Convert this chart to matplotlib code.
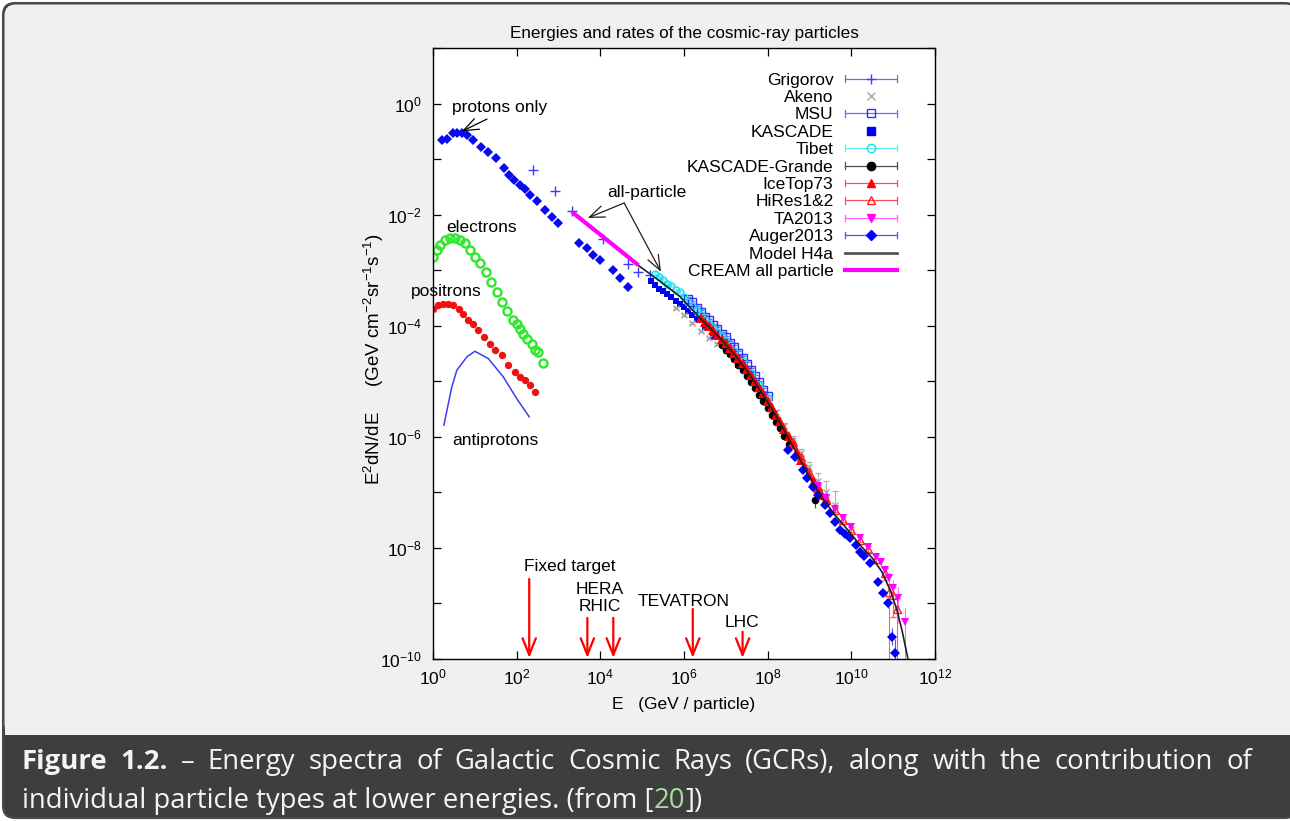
import numpy as np
import matplotlib
matplotlib.use('Agg')
import matplotlib.pyplot as plt
from matplotlib.lines import Line2D
from matplotlib.legend_handler import HandlerBase
from matplotlib.patches import FancyBboxPatch, Rectangle
from matplotlib.ticker import FixedLocator, NullFormatter, NullLocator, LogFormatterSciNotation

plt.rcParams['font.family'] = ['Liberation Sans', 'DejaVu Sans']
plt.rcParams['mathtext.fontset'] = 'custom'
plt.rcParams['mathtext.rm'] = 'Liberation Sans'
plt.rcParams['mathtext.it'] = 'Liberation Sans:italic'
plt.rcParams['mathtext.bf'] = 'Liberation Sans:bold'

# ---- data as log10(E / GeV) and log10(E^2 dN/dE) ----
protons_logE = [0.21, 0.33, 0.48, 0.57, 0.69, 0.81, 0.96, 1.15, 1.32, 1.51, 1.70, 1.82, 1.94, 2.08,
                2.20, 2.32, 2.48, 2.68, 2.84, 2.99, 3.49, 3.67, 3.83, 3.99, 4.30, 4.47, 4.66]
protons_logF = [-0.66, -0.63, -0.53, -0.53, -0.53, -0.57, -0.66, -0.78, -0.87, -0.98, -1.16, -1.29, -1.38,
                -1.47, -1.54, -1.65, -1.75, -1.92, -2.04, -2.15, -2.51, -2.60, -2.73, -2.82, -3.00, -3.14, -3.30]

electrons_logE = [0.01, 0.09, 0.17, 0.29, 0.41, 0.53, 0.65, 0.77, 0.89, 1.00, 1.12, 1.27, 1.38, 1.53,
                  1.64, 1.78, 1.91, 2.00, 2.08, 2.16, 2.25, 2.36, 2.44, 2.52, 2.62]
electrons_logF = [-2.76, -2.64, -2.55, -2.46, -2.42, -2.42, -2.46, -2.51, -2.64, -2.76, -2.87, -3.03, -3.21,
                  -3.39, -3.58, -3.73, -3.89, -3.96, -4.05, -4.14, -4.23, -4.32, -4.44, -4.47, -4.67]

positrons_logE = [0.01, 0.13, 0.25, 0.37, 0.49, 0.61, 0.72, 0.84, 0.96, 1.08, 1.22, 1.36, 1.48, 1.64,
                  1.80, 1.96, 2.08, 2.20, 2.32, 2.44]
positrons_logF = [-3.69, -3.63, -3.60, -3.61, -3.63, -3.69, -3.78, -3.89, -3.96, -4.07, -4.20, -4.32, -4.44,
                  -4.53, -4.71, -4.83, -4.92, -4.97, -5.07, -5.19]

antiprotons_logE = [0.26, 0.45, 0.57, 0.81, 1.00, 1.32, 1.68, 2.00, 2.30]
antiprotons_logF = [-5.79, -5.10, -4.80, -4.56, -4.46, -4.59, -4.92, -5.31, -5.64]

grigorov_logE = [2.38, 2.92, 3.32, 4.06, 4.67, 4.91, 5.19]
grigorov_logF = [-1.20, -1.57, -1.93, -2.43, -2.88, -3.03, -3.09]

cream_logE = [3.32, 4.91]
cream_logF = [-1.95, -2.91]

h4a_logE = [4.90, 5.43, 5.91, 6.38, 6.86, 7.22, 7.58, 7.94, 8.30, 8.65, 9.01, 9.30, 9.61, 9.92, 10.21,
            10.50, 10.73, 10.93, 11.09, 11.21, 11.36]
h4a_logF = [-2.91, -3.20, -3.48, -3.86, -4.22, -4.53, -4.89, -5.30, -5.75, -6.24, -6.74, -7.10, -7.41,
            -7.68, -7.95, -8.18, -8.43, -8.76, -9.12, -9.48, -10.02]

tibet_logE = [5.3, 5.4, 5.5, 5.6, 5.7, 5.8, 5.9, 6.0, 6.1, 6.2, 6.3, 6.4, 6.5, 6.6, 6.7, 6.8, 6.9, 7.0,
              7.2, 7.4, 7.6, 7.8, 8.0]
tibet_logF = [-3.06, -3.12, -3.17, -3.24, -3.29, -3.36, -3.40, -3.48, -3.57, -3.64, -3.73, -3.81, -3.89,
              -3.96, -4.04, -4.11, -4.19, -4.27, -4.45, -4.64, -4.85, -5.07, -5.31]

kascade_logE = [5.2, 5.3, 5.4, 5.5, 5.6, 5.7, 5.8, 5.9, 6.0, 6.1, 6.2, 6.3, 6.5, 6.7, 6.9, 7.1, 7.3]
kascade_logF = [-3.20, -3.27, -3.33, -3.38, -3.43, -3.49, -3.55, -3.60, -3.66, -3.73, -3.80, -3.88, -4.03,
                -4.18, -4.34, -4.51, -4.70]

msu_logE = [6.1, 6.2, 6.3, 6.4, 6.5, 6.6, 6.7, 6.8, 6.9, 7.0, 7.1, 7.2, 7.3, 7.4, 7.5, 7.6, 7.7, 7.8, 7.9, 8.0]
msu_logF = [-3.51, -3.58, -3.68, -3.75, -3.84, -3.90, -3.99, -4.05, -4.14, -4.21, -4.31, -4.38, -4.49,
            -4.58, -4.69, -4.79, -4.91, -5.02, -5.15, -5.27]

akeno_logE = [5.8, 6.0, 6.2, 6.4, 6.6, 6.8, 7.0, 7.2, 7.4, 7.6, 7.8, 8.0, 8.2, 8.4, 8.6, 8.8, 9.0, 9.2, 9.4, 9.6]
akeno_logF = [-3.68, -3.80, -3.95, -4.10, -4.22, -4.33, -4.45, -4.58, -4.74, -4.93, -5.12, -5.33, -5.56,
              -5.80, -6.05, -6.30, -6.55, -6.80, -7.00, -7.22]
akeno_err = [0.02, 0.02, 0.02, 0.02, 0.02, 0.02, 0.02, 0.03, 0.03, 0.03, 0.04, 0.04, 0.05, 0.05, 0.06,
             0.08, 0.10, 0.15, 0.20, 0.25]

grande_logE = [6.9, 7.0, 7.1, 7.2, 7.3, 7.4, 7.5, 7.6, 7.7, 7.8, 7.9, 8.0, 8.1, 8.2, 8.3, 8.4, 8.5, 9.13]
grande_logF = [-4.34, -4.43, -4.51, -4.60, -4.70, -4.80, -4.90, -5.01, -5.12, -5.24, -5.36, -5.48, -5.60,
               -5.73, -5.85, -5.99, -6.13, -7.14]
grande_err = [0.02, 0.02, 0.02, 0.02, 0.02, 0.02, 0.02, 0.02, 0.03, 0.03, 0.03, 0.03, 0.04, 0.04, 0.05,
              0.05, 0.06, 0.15]

icetop_logE = [6.4, 6.5, 6.6, 6.7, 6.8, 6.9, 7.0, 7.1, 7.2, 7.3, 7.4, 7.5, 7.6, 7.7, 7.8, 7.9, 8.0, 8.1,
               8.2, 8.3, 8.4, 8.5, 8.6, 8.7, 8.8, 8.9, 9.0, 9.1, 9.2, 9.3, 9.4]
icetop_logF = [-3.86, -3.93, -4.01, -4.08, -4.16, -4.23, -4.31, -4.40, -4.49, -4.58, -4.68, -4.78, -4.88,
               -4.99, -5.11, -5.22, -5.35, -5.47, -5.60, -5.72, -5.86, -5.99, -6.13, -6.27, -6.41, -6.55,
               -6.68, -6.80, -6.92, -7.04, -7.13]
icetop_err = [0.02] * 12 + [0.03] * 8 + [0.04, 0.04, 0.05, 0.05, 0.06, 0.06, 0.07, 0.08, 0.09, 0.10, 0.12]

hires_logE = [8.6, 8.8, 9.0, 9.2, 9.4, 9.6, 9.8, 10.0, 10.2, 10.4, 10.6, 10.8, 10.9, 11.0, 11.1]
hires_logF = [-6.10, -6.37, -6.64, -6.90, -7.12, -7.32, -7.49, -7.67, -7.85, -8.02, -8.20, -8.45, -8.80,
              -8.85, -9.10]
hires_lo = [0.03, 0.03, 0.03, 0.03, 0.03, 0.04, 0.04, 0.05, 0.05, 0.06, 0.08, 0.12, 1.40, 0.40, 1.00]
hires_hi = [0.03, 0.03, 0.03, 0.03, 0.03, 0.04, 0.04, 0.05, 0.05, 0.06, 0.07, 0.09, 0.15, 0.15, 0.20]

ta_logE = [9.2, 9.4, 9.6, 9.8, 10.0, 10.2, 10.4, 10.6, 10.7, 10.8, 10.9, 11.0, 11.12, 11.28]
ta_logF = [-6.88, -7.10, -7.30, -7.46, -7.63, -7.82, -7.98, -8.16, -8.26, -8.40, -8.55, -8.72, -8.90, -9.33]
ta_lo = [0.03, 0.03, 0.03, 0.04, 0.04, 0.05, 0.06, 0.08, 0.10, 0.12, 0.20, 0.30, 0.45, 1.00]
ta_hi = [0.03, 0.03, 0.03, 0.04, 0.04, 0.05, 0.06, 0.07, 0.08, 0.10, 0.12, 0.15, 0.20, 0.25]

auger_logE = [8.49, 8.65, 8.85, 8.94, 9.08, 9.20, 9.37, 9.50, 9.61, 9.73, 9.85, 9.97, 10.10, 10.21, 10.30,
              10.45, 10.64, 10.76, 10.88, 10.97, 11.05]
auger_logF = [-6.24, -6.36, -6.60, -6.74, -6.90, -7.05, -7.23, -7.38, -7.53, -7.68, -7.75, -7.82, -7.95,
              -8.07, -8.15, -8.27, -8.61, -8.81, -8.99, -9.60, -9.89]
auger_err = [0.02, 0.02, 0.02, 0.02, 0.02, 0.02, 0.02, 0.02, 0.02, 0.03, 0.03, 0.03, 0.03, 0.04, 0.04,
             0.05, 0.06, 0.07, 0.09, 0.15, 0.25]

acc_names = ['Fixed target', 'HERA', 'RHIC', 'TEVATRON', 'LHC']
acc_logE = [2.30, 3.69, 4.31, 6.21, 7.40]


def dex(a):
    return 10.0 ** np.asarray(a, dtype=float)


class HandlerBar(HandlerBase):
    # gnuplot style key sample: horizontal bar with end caps and the point in the middle
    def create_artists(self, legend, orig_handle, xdescent, ydescent, width, height, fontsize, trans):
        y = height / 2 - ydescent
        x0, x1 = -xdescent, width - xdescent
        out = []
        if orig_handle.get_linestyle() not in ('None', ''):
            c, lw = orig_handle.get_color(), orig_handle.get_linewidth()
            out.append(Line2D([x0, x1], [y, y], color=c, lw=lw))
            if orig_handle.get_gid() == 'bar':
                for xc in (x0, x1):
                    out.append(Line2D([xc, xc], [y - 2.3, y + 2.3], color=c, lw=lw))
        if orig_handle.get_marker() not in ('None', None, ''):
            out.append(Line2D([(x0 + x1) / 2], [y], ls='None', marker=orig_handle.get_marker(),
                              ms=orig_handle.get_markersize(), mfc=orig_handle.get_markerfacecolor(),
                              mec=orig_handle.get_markeredgecolor(), mew=orig_handle.get_markeredgewidth()))
        for a in out:
            a.set_transform(trans)
        return out


fig = plt.figure(figsize=(12.9, 8.21), dpi=100)
fig.patch.set_facecolor('white')

# box and caption band
fig.add_artist(FancyBboxPatch((0.03, 0.03), 12.94, 8.15, boxstyle='round,pad=0,rounding_size=0.12',
                              transform=fig.dpi_scale_trans, fc='#3e3e3e', ec='#4a4a4a', lw=1.5, zorder=-10))
fig.add_artist(FancyBboxPatch((0.045, 0.86), 12.92, 7.305, boxstyle='round,pad=0,rounding_size=0.11',
                              transform=fig.dpi_scale_trans, fc='#f0f0f0', ec='none', zorder=-9))
fig.add_artist(Rectangle((0.045, 0.86), 12.92, 0.3, transform=fig.dpi_scale_trans,
                         fc='#f0f0f0', ec='none', zorder=-9))

ax = fig.add_axes([433 / 1290, 1 - 659 / 821, 502 / 1290, 611 / 821])
ax.set_xscale('log')
ax.set_yscale('log')

# low energy species
ax.plot(dex(protons_logE), dex(protons_logF), ls='none', marker='D', ms=4.6, color='#0a0af0', mew=0)
ax.plot(dex(electrons_logE), dex(electrons_logF), ls='none', marker='o', ms=5.8, mfc='none',
        mec='#2ee82e', mew=1.7)
ax.plot(dex(positrons_logE), dex(positrons_logF), ls='none', marker='o', ms=5.3, color='#f01010', mew=0)
ax.plot(dex(antiprotons_logE), dex(antiprotons_logF), color='#3c3cf0', lw=1.1)


def errbar(logE, logF, lo, hi, **kw):
    F = dex(logF)
    yerr = [F - F * dex(-np.asarray(lo)), F * dex(hi) - F]
    ax.errorbar(dex(logE), F, yerr=yerr, capsize=2, elinewidth=0.8, capthick=0.8, ls='none', **kw)


# all-particle spectrum
ax.plot(dex(grigorov_logE), dex(grigorov_logF), ls='none', marker='+', ms=7, mew=1.0, color='#3c3cff')
errbar(akeno_logE, akeno_logF, akeno_err, akeno_err, marker='x', ms=5, mew=0.9, color='#a0a0a0',
       ecolor='#b0b0b0')
errbar(msu_logE, msu_logF, [0.03] * len(msu_logE), [0.03] * len(msu_logE), marker='s', ms=5.5, mfc='none',
       mec='#3030ff', mew=1.0, ecolor='#7070ff')
ax.plot(dex(kascade_logE), dex(kascade_logF), ls='none', marker='s', ms=4.8, color='#0000f0', mew=0)
errbar(tibet_logE, tibet_logF, [0.02] * len(tibet_logE), [0.02] * len(tibet_logE), marker='o', ms=5,
       mfc='none', mec='#10e0f0', mew=1.0, ecolor='#70f0f8')
errbar(grande_logE, grande_logF, grande_err, grande_err, marker='o', ms=5.5, color='black', mew=0,
       ecolor='#505050')
errbar(icetop_logE, icetop_logF, icetop_err, icetop_err, marker='^', ms=7, color='#ff0000', mew=0,
       ecolor='#ff4040')
errbar(hires_logE, hires_logF, hires_lo, hires_hi, marker='^', ms=6, mfc='none', mec='#ff2020', mew=1.0,
       ecolor='#ff6060')
errbar(ta_logE, ta_logF, ta_lo, ta_hi, marker='v', ms=6, color='#ff00ff', mew=0, ecolor='#ff70ff')
errbar(auger_logE, auger_logF, auger_err, auger_err, marker='D', ms=5, color='#0000ff', mew=0,
       ecolor='#5050ff')
ax.plot(dex(h4a_logE), dex(h4a_logF), color='#202020', lw=1.2, zorder=5)
ax.plot(dex(cream_logE), dex(cream_logF), color='#ff00ff', lw=3, solid_capstyle='butt', zorder=6)

ax.set_xlim(1, 1e12)
ax.set_ylim(1e-10, 10)

# axes cosmetics, gnuplot-like
ax.xaxis.set_major_locator(FixedLocator(dex(np.arange(0, 13, 2))))
ax.xaxis.set_minor_locator(NullLocator())
ax.yaxis.set_major_locator(FixedLocator(dex(np.arange(-10, 1, 2))))
ax.yaxis.set_minor_locator(FixedLocator(dex(np.arange(-9, 2, 2))))
ax.yaxis.set_minor_formatter(NullFormatter())
ax.xaxis.set_major_formatter(LogFormatterSciNotation())
ax.yaxis.set_major_formatter(LogFormatterSciNotation())
ax.tick_params(which='both', direction='in', top=True, right=True, length=6, width=0.9,
               labelsize=12.5, colors='black')
ax.tick_params(axis='x', pad=6)
ax.tick_params(axis='y', pad=8)
for s in ax.spines.values():
    s.set_linewidth(1.0)

ax.set_title('Energies and rates of the cosmic-ray particles', fontsize=12.3, pad=7)
ax.set_xlabel('E   (GeV / particle)', fontsize=12.5)
ax.xaxis.set_label_coords(0.5, -0.062)
ax.set_ylabel('E$\\mathregular{^2}$dN/dE     (GeV cm$\\mathregular{^{-2}}$sr$\\mathregular{^{-1}}$'
              's$\\mathregular{^{-1}}$)', fontsize=13.5)
ax.yaxis.set_label_coords(-0.094, 0.49)

# labels and arrows in the plot
tfs = 12.5
ax.text(dex(1.60), dex(-0.08), 'protons only', fontsize=tfs, ha='center', va='center')
ax.text(dex(1.15), dex(-2.24), 'electrons', fontsize=tfs, ha='center', va='center')
ax.text(dex(0.31), dex(-3.39), 'positrons', fontsize=tfs, ha='center', va='center')
ax.text(dex(1.48), dex(-6.06), 'antiprotons', fontsize=tfs, ha='center', va='center')
ax.text(dex(5.12), dex(-1.61), 'all-particle', fontsize=tfs, ha='center', va='center')


def arrow(tail, head, color, lw, hl=0.9, hw=0.35):
    ax.annotate('', xy=(dex(head[0]), dex(head[1])), xytext=(dex(tail[0]), dex(tail[1])),
                arrowprops=dict(arrowstyle='->,head_length=%g,head_width=%g' % (hl, hw), color=color, lw=lw,
                                shrinkA=0, shrinkB=0, mutation_scale=12))


arrow((1.29, -0.28), (0.69, -0.50), 'black', 0.9)
arrow((4.57, -1.79), (3.70, -2.06), '#202020', 0.9)
arrow((4.57, -1.79), (5.45, -3.03), '#202020', 0.9)

acc_text_pos = [(3.275, -8.34), (3.99, -8.74), (3.99, -9.06), (6.0, -8.96), (7.39, -9.35)]
acc_arrow_top = [-8.56, -9.26, -9.26, -9.10, -9.51]
for name, (tx, ty) in zip(acc_names, acc_text_pos):
    ax.text(dex(tx), dex(ty), name, fontsize=tfs, ha='center', va='center')
for e, top in zip(acc_logE, acc_arrow_top):
    arrow((e, top), (e, -9.98), '#ff0000', 1.6, hl=1.0, hw=0.4)

# legend
handles = [
    Line2D([], [], color='#6a6aff', lw=0.9, marker='+', ms=7, mec='#3c3cff', gid='bar'),
    Line2D([], [], ls='None', marker='x', ms=5.5, mec='#a8a8a8', mew=1.0),
    Line2D([], [], color='#6a6aff', lw=0.9, marker='s', ms=6, mfc='none', mec='#3030ff', gid='bar'),
    Line2D([], [], ls='None', marker='s', ms=6, mfc='#0000f0', mec='#0000f0'),
    Line2D([], [], color='#60f0f8', lw=0.9, marker='o', ms=6, mfc='none', mec='#10e0f0', gid='bar'),
    Line2D([], [], color='#505050', lw=0.9, marker='o', ms=6, mfc='black', mec='black', gid='bar'),
    Line2D([], [], color='#ff5050', lw=0.9, marker='^', ms=6, mfc='#ff0000', mec='#ff0000', gid='bar'),
    Line2D([], [], color='#ff5050', lw=0.9, marker='^', ms=6, mfc='none', mec='#ff2020', gid='bar'),
    Line2D([], [], color='#ff60ff', lw=0.9, marker='v', ms=6, mfc='#ff00ff', mec='#ff00ff', gid='bar'),
    Line2D([], [], color='#5050ff', lw=0.9, marker='D', ms=5.5, mfc='#0000ff', mec='#0000ff', gid='bar'),
    Line2D([], [], color='#555555', lw=2.0),
    Line2D([], [], color='#ff00ff', lw=3.0),
]
labels = ['Grigorov', 'Akeno', 'MSU', 'KASCADE', 'Tibet', 'KASCADE-Grande', 'IceTop73', 'HiRes1&2',
          'TA2013', 'Auger2013', 'Model H4a', 'CREAM all particle']
ax.legend(handles, labels, handler_map={Line2D: HandlerBar()}, loc='upper right',
          bbox_to_anchor=(0.924, 0.960), borderaxespad=0, borderpad=0, frameon=False, fontsize=12.5,
          markerfirst=False, handlelength=3.0, handletextpad=0.65, labelspacing=0.13)

# caption, justified on the first line
cap_font = ['Open Sans', 'DejaVu Sans']
W = 1290.0
renderer = fig.canvas.get_renderer()
probe = fig.text(0, 0, 'individual particle types at lower energies. (from [20])', fontsize=17,
                 family=cap_font)
cap_fs = 17 * 681.0 / probe.get_window_extent(renderer).width
probe.remove()

line1 = [('Figure', 'bold'), ('1.2.', 'bold'), ('–', 'normal'), ('Energy', 'normal'), ('spectra', 'normal'),
         ('of', 'normal'), ('Galactic', 'normal'), ('Cosmic', 'normal'), ('Rays', 'normal'),
         ('(GCRs),', 'normal'), ('along', 'normal'), ('with', 'normal'), ('the', 'normal'),
         ('contribution', 'normal'), ('of', 'normal')]
texts = [fig.text(0, 1 - 769 / 821, w, fontsize=cap_fs, fontweight=wt, color='#f4f4f4', family=cap_font,
                  ha='left', va='baseline') for w, wt in line1]
widths = [t.get_window_extent(renderer).width for t in texts]
gap = (1252 - 22 - sum(widths)) / (len(texts) - 1)
x = 22.0
for t, w in zip(texts, widths):
    t.set_x(x / W)
    x += w + gap

line2 = [('individual particle types at lower energies. (from [', '#f4f4f4'), ('20', '#a8dca0'),
         ('])', '#f4f4f4')]
x = 22.0
for s, c in line2:
    t = fig.text(x / W, 1 - 808 / 821, s, fontsize=cap_fs, color=c, family=cap_font, ha='left', va='baseline')
    x += t.get_window_extent(renderer).width

fig.savefig('out.png', dpi=100)
